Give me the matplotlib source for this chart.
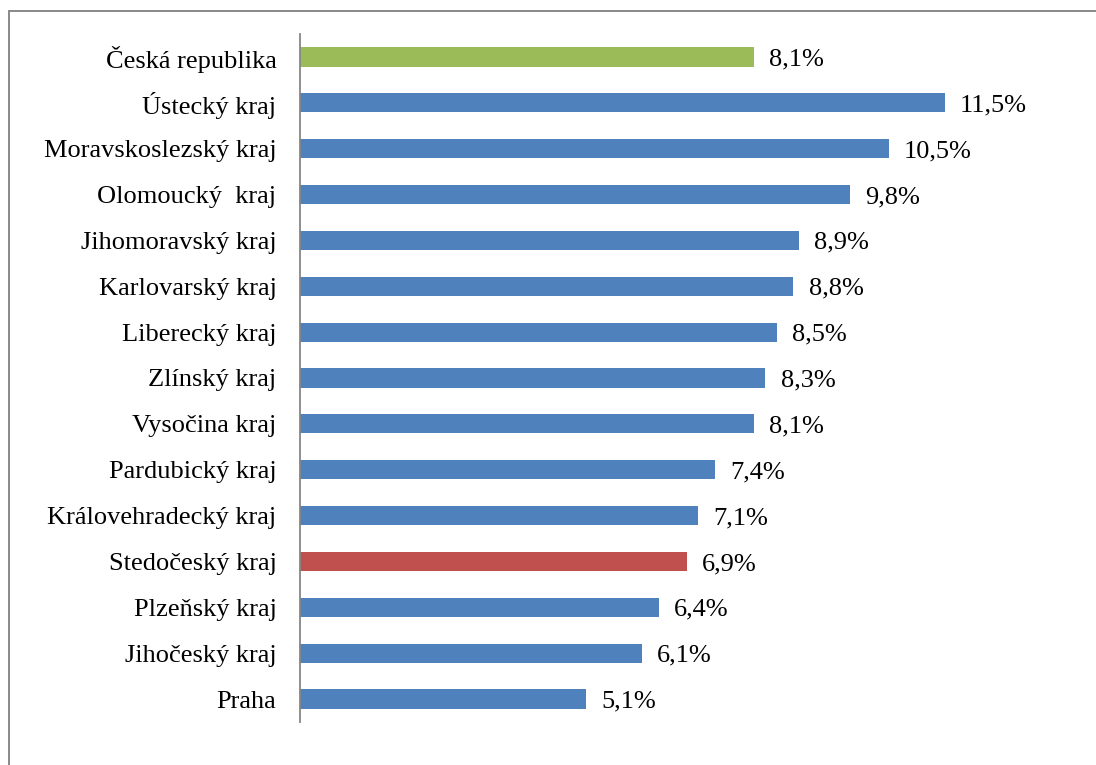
import matplotlib
matplotlib.use("Agg")
import matplotlib.pyplot as plt
from matplotlib.patches import Rectangle

# Regional values (top to bottom)
regions = [
    "Česká republika", "Ústecký kraj", "Moravskoslezský kraj", "Olomoucký  kraj",
    "Jihomoravský kraj", "Karlovarský kraj", "Liberecký kraj", "Zlínský kraj",
    "Vysočina kraj", "Pardubický kraj", "Královehradecký kraj", "Stedočeský kraj",
    "Plzeňský kraj", "Jihočeský kraj", "Praha",
]
values = [8.1, 11.5, 10.5, 9.8, 8.9, 8.8, 8.5, 8.3, 8.1, 7.4, 7.1, 6.9, 6.4, 6.1, 5.1]

BLUE = "#4F81BD"
GREEN = "#9BBB59"
RED = "#C0504D"
colors = [GREEN] + [BLUE] * 10 + [RED] + [BLUE] * 3

plt.rcParams["font.family"] = ["Liberation Serif", "DejaVu Serif"]
FS = 19

W, H = 1096, 765
fig = plt.figure(figsize=(W / 100, H / 100), dpi=100)
fig.patch.set_facecolor("white")

# Outer chart frame (extends beyond the canvas on the right and bottom)
fig.patches.append(Rectangle((9 / W, -0.05), 1.2, 1 - 11 / H + 0.05,
                             transform=fig.transFigure, fill=False,
                             edgecolor="#808080", linewidth=1.3))

ax = fig.add_axes([300 / W, 1 - 722 / H, (1085 - 300) / W, (722 - 34) / H])
ypos = list(range(len(regions)))
ax.barh(ypos, values, height=0.42, color=colors)
ax.set_ylim(len(regions) - 0.5, -0.5)
ax.set_xlim(0, 14)

for y, v in zip(ypos, values):
    ax.annotate(f"{v:.1f}".replace(".", ",") + "%", (v, y), xytext=(11, 0),
                textcoords="offset points", va="center_baseline", ha="left",
                fontsize=FS)

ax.set_yticks(ypos)
ax.set_yticklabels(regions, fontsize=FS, va="center_baseline")
ax.tick_params(axis="y", length=0, pad=17)
ax.set_xticks([])
for side in ("top", "right", "bottom"):
    ax.spines[side].set_visible(False)
ax.spines["left"].set_color("#868686")
ax.spines["left"].set_linewidth(1.3)

fig.savefig("out.png", dpi=100)
